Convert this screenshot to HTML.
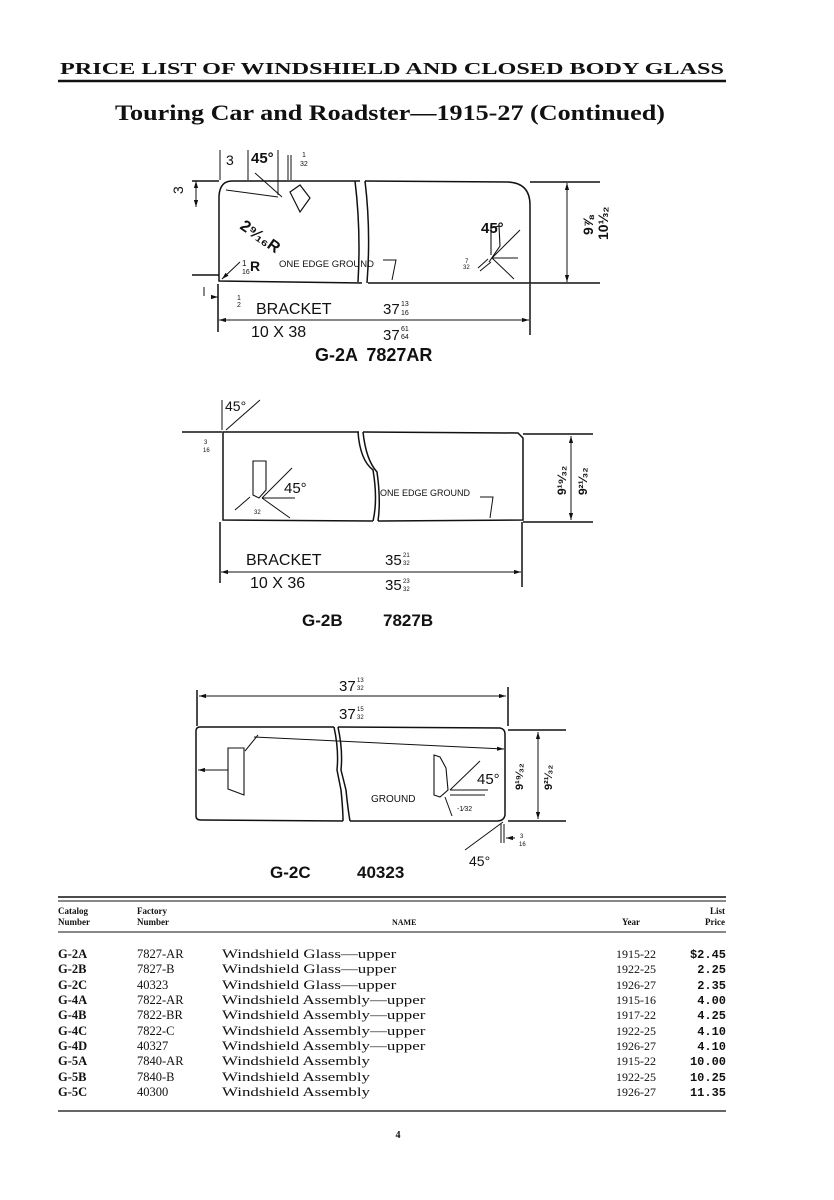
<!DOCTYPE html>
<html><head><meta charset="utf-8"><style>
html,body{margin:0;padding:0;background:#fff;}
svg{display:block;}
.s{font-family:"Liberation Serif",serif;fill:#111;}
.a{font-family:"Liberation Sans",sans-serif;fill:#111;}
</style></head><body>
<svg width="834" height="1200" viewBox="0 0 834 1200" xmlns="http://www.w3.org/2000/svg">
<defs>
<marker id="ar" viewBox="0 0 10 10" refX="10" refY="5" markerWidth="7" markerHeight="7" orient="auto-start-reverse"><path d="M0,2 L10,5 L0,8 z" fill="#111"/></marker>
</defs>
<rect width="834" height="1200" fill="#fff"/>
<text x="60" y="74" class="s" font-size="17" font-weight="bold" textLength="664" lengthAdjust="spacingAndGlyphs">PRICE LIST OF WINDSHIELD AND CLOSED BODY GLASS</text>
<line x1="58" y1="81" x2="726" y2="81" stroke="#111" stroke-width="2.5"/>
<text x="115" y="120" class="s" font-size="22" font-weight="bold" textLength="550" lengthAdjust="spacingAndGlyphs">Touring Car and Roadster—1915-27 (Continued)</text>

<g stroke="#111" fill="none" stroke-width="1.5">
<!-- Diagram 1 -->
<path d="M360,181 L232,181 Q220,181 219,196 L219,281 L362,283"/>
<path d="M355,181 Q361,230 358,282"/>
<path d="M365,181 L508,182 Q530,183 530,205 L530,283 L368,283"/>
<path d="M365,181 Q371,230 367,283"/>
<line x1="192" y1="181" x2="219" y2="181"/><line x1="530" y1="182" x2="600" y2="182"/>
<line x1="192" y1="275" x2="219" y2="275"/><line x1="530" y1="283" x2="600" y2="283"/>
<line x1="196" y1="181" x2="196" y2="207" marker-start="url(#ar)" marker-end="url(#ar)" stroke-width="1"/>
<line x1="567" y1="183" x2="567" y2="282" marker-start="url(#ar)" marker-end="url(#ar)" stroke-width="1"/>
<line x1="218" y1="284" x2="218" y2="332"/><line x1="530" y1="284" x2="530" y2="335"/>
<line x1="219" y1="320" x2="529" y2="320" marker-start="url(#ar)" marker-end="url(#ar)" stroke-width="1"/>
<line x1="220" y1="150" x2="220" y2="180" stroke-width="1"/><line x1="248" y1="150" x2="248" y2="180" stroke-width="1"/>
<line x1="278" y1="150" x2="278" y2="195" stroke-width="1"/><line x1="288" y1="155" x2="288" y2="180" stroke-width="1"/><line x1="291" y1="155" x2="291" y2="180" stroke-width="1"/>
<path d="M290,192 L300,185 L310,198 L300,212 Z" stroke-width="1.2"/>
<line x1="255" y1="173" x2="282" y2="197" stroke-width="1"/>
<line x1="226" y1="190" x2="278" y2="197" stroke-width="1"/>
<line x1="222" y1="279" x2="240" y2="262" stroke-width="1" marker-start="url(#ar)"/>
<path d="M383,260 L396,260 L392,280" stroke-width="1"/>
<path d="M491,255 L491,228 L499,226 L500,246 L489,262" stroke-width="1.1"/>
<line x1="492" y1="258" x2="520" y2="230" stroke-width="1"/><line x1="492" y1="258" x2="518" y2="258" stroke-width="1"/>
<line x1="492" y1="258" x2="514" y2="279" stroke-width="1"/>
<line x1="478" y1="268" x2="488" y2="259" stroke-width="1"/><line x1="480" y1="271" x2="491" y2="262" stroke-width="1"/>
<line x1="204" y1="287" x2="204" y2="296" stroke-width="1"/><line x1="212" y1="297" x2="218" y2="297" stroke-width="1" marker-end="url(#ar)"/>

<!-- Diagram 2 -->
<path d="M359,432 L223,432 L223,520 L373,521"/>
<path d="M358,432 Q360,460 373,470 Q378,500 373,521"/>
<path d="M363,432 L518,433 L523,438 L523,520 L378,521"/>
<path d="M363,432 Q366,460 377,472 Q381,500 378,521"/>
<line x1="182" y1="432" x2="222" y2="432"/><line x1="523" y1="434" x2="593" y2="434"/>
<line x1="523" y1="522" x2="593" y2="522"/>
<line x1="571" y1="436" x2="571" y2="520" marker-start="url(#ar)" marker-end="url(#ar)" stroke-width="1"/>
<line x1="220" y1="522" x2="220" y2="583"/><line x1="522" y1="522" x2="522" y2="587"/>
<line x1="221" y1="572" x2="521" y2="572" marker-start="url(#ar)" marker-end="url(#ar)" stroke-width="1"/>
<path d="M253,495 L253,461 L266,461 L266,490 L259,498 Z" stroke-width="1.1"/>
<line x1="262" y1="498" x2="292" y2="468" stroke-width="1"/><line x1="262" y1="498" x2="295" y2="498" stroke-width="1"/>
<line x1="262" y1="498" x2="290" y2="518" stroke-width="1"/>
<line x1="235" y1="510" x2="250" y2="497" stroke-width="1"/>
<path d="M480,497 L493,497 L490,518" stroke-width="1"/>
<line x1="226" y1="430" x2="260" y2="400" stroke-width="1"/>
<line x1="222" y1="400" x2="222" y2="430" stroke-width="1"/>

<!-- Diagram 3 -->
<path d="M334,727 L200,727 Q196,727 196,731 L196,816 Q196,820 201,820 L343,821"/>
<path d="M334,727 Q339,750 337,770 L341,790 Q343,810 343,821"/>
<path d="M338,727 L500,728 Q505,729 505,734 L505,815 Q504,821 497,821 L350,821"/>
<path d="M338,727 Q343,750 341,770 L346,790 Q348,810 350,821"/>
<line x1="197" y1="690" x2="197" y2="726"/><line x1="508" y1="687" x2="508" y2="726"/>
<line x1="199" y1="696" x2="506" y2="696" marker-start="url(#ar)" marker-end="url(#ar)" stroke-width="1"/>
<line x1="508" y1="730" x2="566" y2="730"/><line x1="508" y1="821" x2="566" y2="821"/>
<line x1="538" y1="732" x2="538" y2="819" marker-start="url(#ar)" marker-end="url(#ar)" stroke-width="1"/>
<line x1="254" y1="737" x2="504" y2="749" stroke-width="1" marker-end="url(#ar)"/>
<line x1="245" y1="751" x2="258" y2="735" stroke-width="1"/>
<path d="M228,748 L244,748 L244,795 L228,789 Z" stroke-width="1.1"/>
<line x1="228" y1="770" x2="198" y2="770" stroke-width="1" marker-end="url(#ar)"/>
<path d="M434,755 L440,757 L446,768 L448,790 L440,797 L434,795 Z" stroke-width="1.1"/>
<line x1="450" y1="790" x2="480" y2="761" stroke-width="1"/><line x1="450" y1="790" x2="488" y2="790" stroke-width="1"/>
<line x1="450" y1="795" x2="485" y2="795" stroke-width="1"/>
<line x1="445" y1="797" x2="452" y2="816" stroke-width="1"/>
<line x1="503" y1="822" x2="465" y2="850" stroke-width="1"/>
<line x1="501" y1="824" x2="501" y2="843" stroke-width="1"/><line x1="504" y1="824" x2="504" y2="843" stroke-width="1"/>
<line x1="515" y1="838" x2="506" y2="838" stroke-width="1" marker-end="url(#ar)"/>
</g>

<g class="a">
<text x="226" y="165" font-size="14">3</text>
<text x="251" y="163" font-size="15" font-weight="bold">45°</text>
<text x="302" y="157" font-size="7">1</text><text x="300" y="166" font-size="7">32</text>
<text x="183" y="194" font-size="14" transform="rotate(-90 183 194)">3</text>
<text x="239" y="228" font-size="16" font-weight="bold" transform="rotate(35 239 228)">2⁹⁄₁₆R</text>
<text x="242" y="266" font-size="8">1</text><text x="242" y="274" font-size="7">16</text>
<text x="250" y="271" font-size="14" font-weight="bold">R</text>
<text x="279" y="267" font-size="9.5">ONE EDGE GROUND</text>
<text x="481" y="233" font-size="15" font-weight="bold">45°</text>
<text x="465" y="263" font-size="6">7</text><text x="463" y="269" font-size="6">32</text>
<text x="593" y="235" font-size="14" font-weight="bold" transform="rotate(-90 593 235)">9⅞</text>
<text x="608" y="240" font-size="14" font-weight="bold" transform="rotate(-90 608 240)">10⅓₂</text>
<text x="237" y="300" font-size="7">1</text><text x="237" y="307" font-size="7">2</text>
<text x="256" y="314" font-size="16">BRACKET</text>
<text x="251" y="337" font-size="16">10 X 38</text>
<text x="383" y="314" font-size="15">37</text><text x="401" y="306" font-size="7">13</text><text x="401" y="315" font-size="7">16</text>
<text x="383" y="340" font-size="15">37</text><text x="401" y="331" font-size="7">61</text><text x="401" y="339" font-size="7">64</text>
<text x="315" y="361" font-size="18" font-weight="bold" word-spacing="4">G-2A 7827AR</text>

<text x="225" y="411" font-size="14">45°</text>
<text x="204" y="444" font-size="6">3</text><text x="203" y="452" font-size="6">16</text>
<text x="284" y="493" font-size="15">45°</text>
<text x="380" y="496" font-size="9">ONE EDGE GROUND</text>
<text x="254" y="514" font-size="6">32</text>
<text x="566" y="495" font-size="12" font-weight="bold" transform="rotate(-90 566 495)">9¹⁹⁄₃₂</text>
<text x="587" y="495" font-size="12" font-weight="bold" transform="rotate(-90 587 495)">9²¹⁄₃₂</text>
<text x="246" y="565" font-size="16">BRACKET</text>
<text x="250" y="588" font-size="16">10 X 36</text>
<text x="385" y="565" font-size="15">35</text><text x="403" y="557" font-size="6">21</text><text x="403" y="565" font-size="6">32</text>
<text x="385" y="590" font-size="15">35</text><text x="403" y="583" font-size="6">23</text><text x="403" y="591" font-size="6">32</text>
<text x="302" y="626" font-size="17" font-weight="bold">G-2B</text>
<text x="383" y="626" font-size="17" font-weight="bold">7827B</text>

<text x="339" y="691" font-size="15">37</text><text x="357" y="682" font-size="6">13</text><text x="357" y="690" font-size="6">32</text>
<text x="339" y="719" font-size="15">37</text><text x="357" y="711" font-size="6">15</text><text x="357" y="719" font-size="6">32</text>
<text x="371" y="802" font-size="10">GROUND</text>
<text x="477" y="784" font-size="15">45°</text>
<text x="457" y="811" font-size="7">-1⁄32</text>
<text x="523" y="790" font-size="11" font-weight="bold" transform="rotate(-90 523 790)">9¹⁹⁄₃₂</text>
<text x="552" y="790" font-size="11" font-weight="bold" transform="rotate(-90 552 790)">9²¹⁄₃₂</text>
<text x="520" y="838" font-size="6">3</text><text x="519" y="846" font-size="6">16</text>
<text x="469" y="866" font-size="14">45°</text>
<text x="270" y="878" font-size="17" font-weight="bold">G-2C</text>
<text x="357" y="878" font-size="17" font-weight="bold">40323</text>
</g>

<line x1="58" y1="897" x2="726" y2="897" stroke="#111" stroke-width="1.5"/>
<line x1="58" y1="901" x2="726" y2="901" stroke="#111" stroke-width="1"/>
<g class="s" font-size="9" font-weight="bold">
<text x="58" y="914">Catalog</text><text x="58" y="925">Number</text>
<text x="137" y="914">Factory</text><text x="137" y="925">Number</text>
<text x="392" y="925" font-size="8">NAME</text>
<text x="640" y="925" text-anchor="end">Year</text>
<text x="725" y="914" text-anchor="end">List</text><text x="725" y="925" text-anchor="end">Price</text>
</g>
<line x1="58" y1="932" x2="726" y2="932" stroke="#111" stroke-width="1"/>
<g class="s" font-size="12.5" font-weight="bold">
<text x="58" y="958">G-2A</text><text x="58" y="973">G-2B</text><text x="58" y="989">G-2C</text><text x="58" y="1004">G-4A</text><text x="58" y="1019">G-4B</text><text x="58" y="1035">G-4C</text><text x="58" y="1050">G-4D</text><text x="58" y="1065">G-5A</text><text x="58" y="1081">G-5B</text><text x="58" y="1096">G-5C</text>
</g>
<g class="s" font-size="12.5">
<text x="137" y="958">7827-AR</text><text x="137" y="973">7827-B</text><text x="137" y="989">40323</text><text x="137" y="1004">7822-AR</text><text x="137" y="1019">7822-BR</text><text x="137" y="1035">7822-C</text><text x="137" y="1050">40327</text><text x="137" y="1065">7840-AR</text><text x="137" y="1081">7840-B</text><text x="137" y="1096">40300</text>
</g>
<g class="s" font-size="13" transform="translate(222 0) scale(1.3 1)">
<text x="0" y="958">Windshield Glass—upper</text><text x="0" y="973">Windshield Glass—upper</text><text x="0" y="989">Windshield Glass—upper</text>
<text x="0" y="1004">Windshield Assembly—upper</text><text x="0" y="1019">Windshield Assembly—upper</text><text x="0" y="1035">Windshield Assembly—upper</text><text x="0" y="1050">Windshield Assembly—upper</text>
<text x="0" y="1065">Windshield Assembly</text><text x="0" y="1081">Windshield Assembly</text><text x="0" y="1096">Windshield Assembly</text>
</g>
<g class="s" font-size="12" text-anchor="end">
<text x="656" y="958">1915-22</text><text x="656" y="973">1922-25</text><text x="656" y="989">1926-27</text><text x="656" y="1004">1915-16</text><text x="656" y="1019">1917-22</text><text x="656" y="1035">1922-25</text><text x="656" y="1050">1926-27</text><text x="656" y="1065">1915-22</text><text x="656" y="1081">1922-25</text><text x="656" y="1096">1926-27</text>
</g>
<g font-family="Liberation Mono, monospace" font-size="12" font-weight="bold" fill="#111" text-anchor="end">
<text x="726" y="958">$2.45</text><text x="726" y="973">2.25</text><text x="726" y="989">2.35</text><text x="726" y="1004">4.00</text><text x="726" y="1019">4.25</text><text x="726" y="1035">4.10</text><text x="726" y="1050">4.10</text><text x="726" y="1065">10.00</text><text x="726" y="1081">10.25</text><text x="726" y="1096">11.35</text>
</g>
<line x1="58" y1="1111" x2="726" y2="1111" stroke="#333" stroke-width="1.5"/>
<text x="398" y="1138" class="s" font-size="10" font-weight="bold" text-anchor="middle">4</text>
</svg>
</body></html>
